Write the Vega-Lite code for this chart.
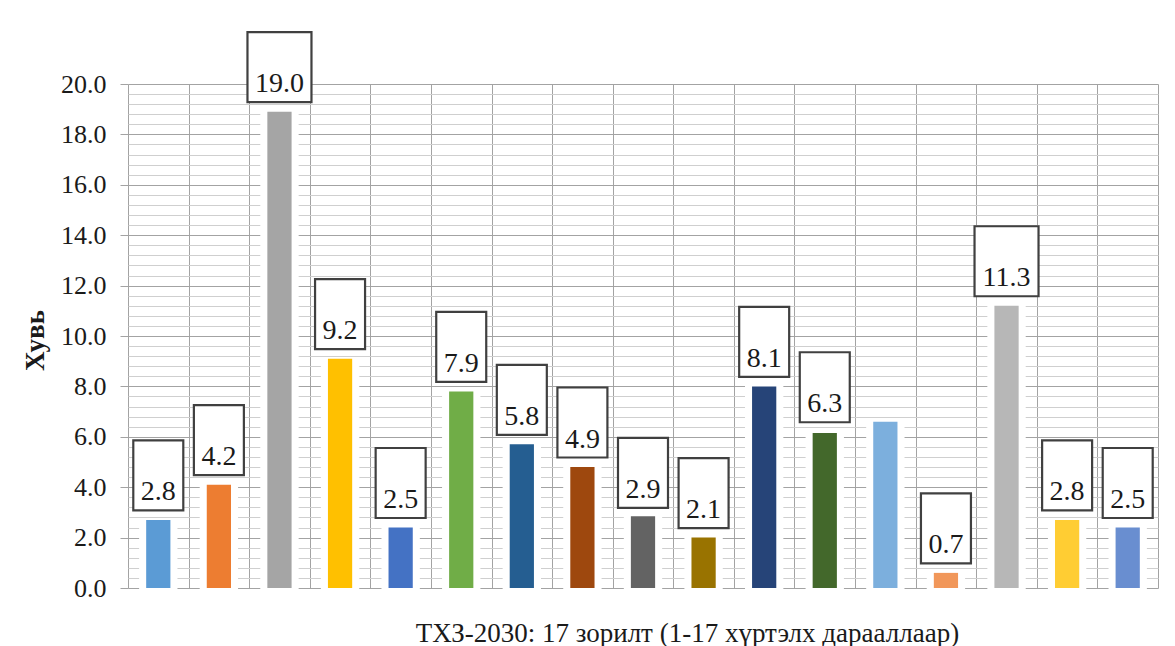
{
  "$schema": "https://vega.github.io/schema/vega-lite/v6.json",
  "width": 1030,
  "height": 504,
  "autosize": {"type": "none"},
  "padding": {"left": 128, "top": 84, "right": 17, "bottom": 58},
  "background": "white",
  "config": {
    "view": {"stroke": null},
    "font": "Liberation Serif, serif"
  },
  "data": {
    "values": [
      {"goal": 1, "value": 2.7, "label": 2.8},
      {"goal": 2, "value": 4.1, "label": 4.2},
      {"goal": 3, "value": 18.9, "label": 19.0},
      {"goal": 4, "value": 9.1, "label": 9.2},
      {"goal": 5, "value": 2.4, "label": 2.5},
      {"goal": 6, "value": 7.8, "label": 7.9},
      {"goal": 7, "value": 5.7, "label": 5.8},
      {"goal": 8, "value": 4.8, "label": 4.9},
      {"goal": 9, "value": 2.85, "label": 2.9},
      {"goal": 10, "value": 2.0, "label": 2.1},
      {"goal": 11, "value": 8.0, "label": 8.1},
      {"goal": 12, "value": 6.15, "label": 6.3},
      {"goal": 13, "value": 6.6, "label": null},
      {"goal": 14, "value": 0.6, "label": 0.7},
      {"goal": 15, "value": 11.2, "label": 11.3},
      {"goal": 16, "value": 2.7, "label": 2.8},
      {"goal": 17, "value": 2.4, "label": 2.5}
    ]
  },
  "encoding": {
    "x": {
      "field": "goal",
      "type": "ordinal",
      "scale": {"paddingInner": 0, "paddingOuter": 0},
      "axis": {
        "labels": false,
        "ticks": false,
        "domain": false,
        "grid": true,
        "tickBand": "extent",
        "gridColor": "#a3a3a3",
        "gridWidth": 1,
        "title": "ТХЗ-2030: 17 зорилт (1-17 хүртэлх дарааллаар)",
        "titleFont": "Liberation Serif, serif",
        "titleFontSize": 27,
        "titleFontWeight": "normal",
        "titleColor": "#1a1a1a",
        "titleX": 559,
        "titleY": 45,
        "titleAlign": "center",
        "titleBaseline": "middle"
      }
    }
  },
  "layer": [
    {
      "mark": {"type": "bar", "color": "white", "width": {"band": 0.6}, "stroke": "white", "strokeWidth": 2},
      "encoding": {
        "y": {
          "field": "value",
          "type": "quantitative",
          "scale": {"domain": [0, 20], "nice": false},
          "axis": {
            "orient": "right",
            "values": [0.4, 0.8, 1.2, 1.6, 2.4, 2.8, 3.2, 3.6, 4.4, 4.8, 5.2, 5.6, 6.4, 6.8, 7.2, 7.6, 8.4, 8.8, 9.2, 9.6, 10.4, 10.8, 11.2, 11.6, 12.4, 12.8, 13.2, 13.6, 14.4, 14.8, 15.2, 15.6, 16.4, 16.8, 17.2, 17.6, 18.4, 18.8, 19.2, 19.6],
            "labels": false,
            "ticks": false,
            "domain": false,
            "grid": true,
            "gridColor": "#cfcfcf",
            "gridWidth": 1,
            "title": null
          }
        }
      }
    },
    {
      "mark": {"type": "bar", "width": {"band": 0.4}},
      "encoding": {
        "y": {
          "field": "value",
          "type": "quantitative",
          "scale": {"domain": [0, 20], "nice": false},
          "axis": {
            "orient": "left",
            "values": [0, 2, 4, 6, 8, 10, 12, 14, 16, 18, 20],
            "format": ".1f",
            "domain": false,
            "grid": true,
            "gridColor": "#a3a3a3",
            "gridWidth": 1,
            "ticks": true,
            "tickSize": 8,
            "tickColor": "#a3a3a3",
            "labelPadding": 14,
            "labelFont": "Liberation Serif, serif",
            "labelFontSize": 26,
            "labelColor": "#1a1a1a",
            "title": "Хувь",
            "titleFont": "Liberation Serif, serif",
            "titleFontSize": 27,
            "titleFontWeight": "bold",
            "titleColor": "#1a1a1a",
            "titleAngle": 270,
            "titleX": -93,
            "titleY": 256,
            "titleAlign": "center",
            "titleBaseline": "middle"
          }
        },
        "color": {
          "field": "goal",
          "type": "ordinal",
          "legend": null,
          "scale": {
            "domain": [1, 2, 3, 4, 5, 6, 7, 8, 9, 10, 11, 12, 13, 14, 15, 16, 17],
            "range": ["#5B9BD5", "#ED7D31", "#A5A5A5", "#FFC000", "#4472C4", "#70AD47", "#255E91", "#9E480E", "#636363", "#997300", "#264478", "#43682B", "#7CAFDD", "#F1975A", "#B7B7B7", "#FFCD33", "#698ED0"]
          }
        }
      }
    },
    {
      "transform": [{"filter": "datum.label != null"}],
      "mark": {"type": "point", "filled": true, "fill": "white", "fillOpacity": 1, "stroke": "#404040", "strokeWidth": 2.2, "strokeOpacity": 1, "opacity": 1, "size": 2500, "yOffset": -42},
      "encoding": {
        "y": {"field": "label", "type": "quantitative", "axis": null},
        "shape": {
          "condition": {"test": "datum.label >= 10", "value": "M-1.28,-1.4L1.28,-1.4L1.28,1.4L-1.28,1.4Z"},
          "value": "M-1,-1.4L1,-1.4L1,1.4L-1,1.4Z"
        }
      }
    },
    {
      "transform": [{"filter": "datum.label != null"}],
      "mark": {"type": "text", "font": "Liberation Serif, serif", "fontSize": 28, "color": "#1a1a1a", "baseline": "alphabetic", "align": "center", "yOffset": -17},
      "encoding": {
        "y": {"field": "label", "type": "quantitative", "axis": null},
        "text": {"field": "label", "type": "quantitative", "format": ".1f"}
      }
    }
  ],
  "resolve": {"axis": {"y": "independent"}}
}
